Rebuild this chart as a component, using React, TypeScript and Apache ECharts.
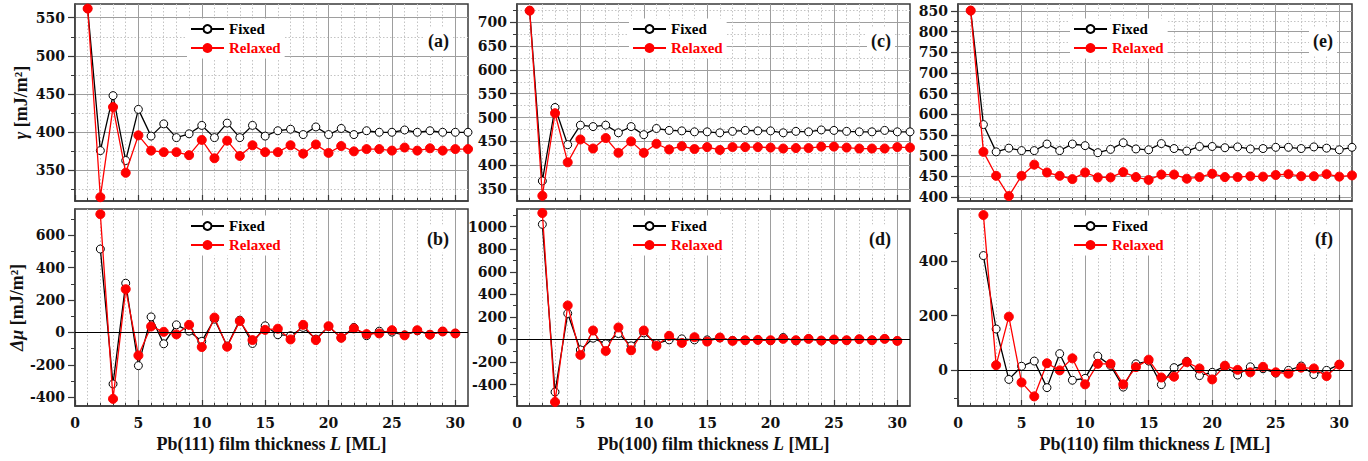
import React, { useEffect, useRef } from "react";
import * as echarts from "echarts";

// ---------- data ----------
const thicknessGamma = [1, 2, 3, 4, 5, 6, 7, 8, 9, 10, 11, 12, 13, 14, 15, 16, 17, 18, 19, 20, 21, 22, 23, 24, 25, 26, 27, 28, 29, 30, 31];
const thicknessDmu = [2, 3, 4, 5, 6, 7, 8, 9, 10, 11, 12, 13, 14, 15, 16, 17, 18, 19, 20, 21, 22, 23, 24, 25, 26, 27, 28, 29, 30];

const gammaFixed111 = [562, 376, 448, 363, 430, 395, 411, 393, 398, 409, 393, 412, 393, 409, 395, 402, 404, 397, 407, 397, 405, 397, 402, 400, 400, 403, 400, 402, 400, 400, 400];
const gammaRelaxed111 = [562, 315, 433, 347, 396, 376, 374, 374, 370, 390, 366, 389, 369, 383, 374, 374, 383, 372, 384, 373, 382, 375, 378, 378, 376, 380, 376, 379, 376, 378, 378];
const dmuFixed111 = [515, -318, 304, -205, 96, -70, 47, 8, -55, 82, -84, 76, -68, 41, -14, -20, 31, -41, 37, -33, 31, -20, 8, 2, -16, 10, -12, 6, -6];
const dmuRelaxed111 = [730, -410, 267, -142, 37, 4, -12, 47, -90, 92, -88, 70, -47, 16, 23, -43, 47, -47, 39, -33, 25, -10, -6, 14, -18, 14, -14, 6, -6];

const gammaFixed100 = [724, 367, 521, 443, 484, 481, 484, 468, 481, 464, 477, 473, 472, 470, 470, 468, 471, 473, 472, 472, 468, 471, 470, 474, 473, 471, 470, 470, 473, 470, 470];
const gammaRelaxed100 = [724, 336, 509, 406, 454, 435, 457, 426, 450, 426, 445, 433, 440, 434, 438, 432, 438, 438, 438, 437, 435, 436, 436, 439, 439, 437, 435, 435, 435, 438, 437];
const dmuFixed100 = [1021, -465, 231, -92, 12, -38, 53, -56, 59, -36, -3, 6, -3, -3, 15, -9, -6, -3, -9, 18, -12, 6, -12, -3, -6, 3, -6, 6, -12];
const dmuRelaxed100 = [1121, -553, 302, -136, 80, -101, 107, -95, 80, -56, 33, -30, 21, -18, 18, -12, -6, -3, -6, 6, -6, 6, -9, 0, -6, 3, -6, 6, -12];

const gammaFixed110 = [851, 575, 509, 518, 512, 512, 528, 512, 528, 524, 507, 515, 531, 516, 514, 529, 517, 511, 522, 522, 519, 521, 516, 517, 520, 520, 517, 521, 518, 514, 520];
const gammaRelaxed110 = [851, 509, 451, 402, 451, 478, 459, 451, 443, 459, 447, 447, 460, 448, 441, 454, 454, 444, 448, 456, 448, 448, 450, 449, 453, 455, 450, 450, 455, 449, 452];
const dmuFixed110 = [419, 151, -33, 15, 34, -63, 61, -36, -29, 52, 18, -61, 24, 34, -52, 10, 33, -19, -7, 16, -17, 13, 6, -10, 0, 16, -15, 0, 21];
const dmuRelaxed110 = [567, 19, 196, -44, -95, 26, 0, 44, -51, 24, 24, -51, 12, 39, -26, -23, 30, 7, -33, 17, 2, -7, 13, -7, -12, 10, 7, -21, 21];

// tick values
const xMajorTicks = [0, 5, 10, 15, 20, 25, 30];
const xMinorTicks = [1, 2, 3, 4, 6, 7, 8, 9, 11, 12, 13, 14, 16, 17, 18, 19, 21, 22, 23, 24, 26, 27, 28, 29];
const yMajorA = [350, 400, 450, 500, 550];
const yMinorA = [325, 375, 425, 475, 525];
const yMajorB = [-400, -200, 0, 200, 400, 600];
const yMinorB = [-300, -100, 100, 300, 500, 700];
const yMajorC = [350, 400, 450, 500, 550, 600, 650, 700];
const yMinorC = [375, 425, 475, 525, 575, 625, 675, 725];
const yMajorD = [-400, -200, 0, 200, 400, 600, 800, 1000];
const yMinorD = [-500, -300, -100, 100, 300, 500, 700, 900, 1100];
const yMajorE = [400, 450, 500, 550, 600, 650, 700, 750, 800, 850];
const yMinorE = [425, 475, 525, 575, 625, 675, 725, 775, 825];
const yMajorF = [0, 200, 400];
const yMinorF = [-100, 100, 300, 500];

const seriesNames = ["Fixed", "Relaxed"];
const panelTags = ["(a)", "(b)", "(c)", "(d)", "(e)", "(f)"];
const xTitles = ["Pb(111) film thickness {i|L} [ML]", "Pb(100) film thickness {i|L} [ML]", "Pb(110) film thickness {i|L} [ML]"];
const yTitles = ["{i|γ} [mJ/m²]", "{i|Δμ} [mJ/m²]"];

// ---------- layout / style ----------
const TICK_FONT = "DejaVu Serif";
const TEXT_FONT = "Liberation Serif";
const FRAME = "#3a3a3a";
const RED = "#ff0000";
const colLeft = [75, 517, 958];
const colWidth = [393, 393, 394];
const rowTop = [4, 209];
const panelHeight = 197;

const panels = [
  { col: 0, row: 0, xs: thicknessGamma, fixed: gammaFixed111, relaxed: gammaRelaxed111, yMin: 310, yMax: 568, yMajor: yMajorA, yMinor: yMinorA },
  { col: 0, row: 1, xs: thicknessDmu, fixed: dmuFixed111, relaxed: dmuRelaxed111, yMin: -454, yMax: 762, yMajor: yMajorB, yMinor: yMinorB },
  { col: 1, row: 0, xs: thicknessGamma, fixed: gammaFixed100, relaxed: gammaRelaxed100, yMin: 325, yMax: 738, yMajor: yMajorC, yMinor: yMinorC },
  { col: 1, row: 1, xs: thicknessDmu, fixed: dmuFixed100, relaxed: dmuRelaxed100, yMin: -589, yMax: 1157, yMajor: yMajorD, yMinor: yMinorD },
  { col: 2, row: 0, xs: thicknessGamma, fixed: gammaFixed110, relaxed: gammaRelaxed110, yMin: 390, yMax: 867, yMajor: yMajorE, yMinor: yMinorE },
  { col: 2, row: 1, xs: thicknessDmu, fixed: dmuFixed110, relaxed: dmuRelaxed110, yMin: -130, yMax: 589, yMajor: yMajorF, yMinor: yMinorF },
];

const plainNumber = (v: number) => String(v);

function buildOption() {
  const grid: any[] = [];
  const xAxis: any[] = [];
  const yAxis: any[] = [];
  const series: any[] = [];
  const legend: any[] = [];
  const graphic: any[] = [];

  const titleStyle = {
    fontFamily: TEXT_FONT,
    fontWeight: "bold",
    fontSize: 18,
    color: "#111",
    rich: {
      i: { fontFamily: TEXT_FONT, fontWeight: "bold", fontStyle: "italic", fontSize: 18, color: "#111" },
    },
  };

  const tickLabel = {
    fontFamily: TICK_FONT,
    fontWeight: "bold",
    fontSize: 14,
    color: "#111",
    formatter: plainNumber,
  };

  panels.forEach((p, i) => {
    const left = colLeft[p.col];
    const width = colWidth[p.col];
    const top = rowTop[p.row];
    const isBottom = p.row === 1;
    const isFirstCol = p.col === 0;

    grid.push({
      left,
      top,
      width,
      height: panelHeight,
      show: true,
      borderColor: FRAME,
      borderWidth: 1.5,
      backgroundColor: "rgba(0,0,0,0)",
    });

    // main x axis
    xAxis.push({
      type: "value",
      gridIndex: i,
      min: 0,
      max: 31,
      position: "bottom",
      axisLine: { show: true, onZero: false, lineStyle: { color: FRAME, width: 1.5 } },
      axisTick: { show: true, inside: true, length: 6, customValues: xMajorTicks, lineStyle: { color: FRAME, width: 1.2 } },
      axisLabel: { show: isBottom, customValues: xMajorTicks, margin: 10, ...tickLabel },
      splitLine: { show: true, lineStyle: { color: "#9e9e9e", width: 1 } },
      name: isBottom ? xTitles[p.col] : "",
      nameLocation: "middle",
      nameGap: 29,
      nameTextStyle: titleStyle,
    });
    // minor x axis
    xAxis.push({
      type: "value",
      gridIndex: i,
      min: 0,
      max: 31,
      position: "bottom",
      axisLine: { show: false, onZero: false },
      axisTick: { show: true, inside: true, length: 3, customValues: xMinorTicks, lineStyle: { color: FRAME, width: 1 } },
      axisLabel: { show: false },
      splitLine: { show: true, lineStyle: { color: "#c4c4c4", width: 1, type: [1.5, 2] } },
    });

    // main y axis
    yAxis.push({
      type: "value",
      gridIndex: i,
      min: p.yMin,
      max: p.yMax,
      position: "left",
      axisLine: { show: true, onZero: false, lineStyle: { color: FRAME, width: 1.5 } },
      axisTick: { show: true, inside: false, length: 7, customValues: p.yMajor, lineStyle: { color: FRAME, width: 1.2 } },
      axisLabel: { show: true, customValues: p.yMajor, margin: 10, ...tickLabel },
      splitLine: { show: !isBottom, lineStyle: { color: "#9e9e9e", width: 1 } },
      name: isFirstCol ? yTitles[p.row] : "",
      nameLocation: "middle",
      nameGap: 45,
      nameTextStyle: titleStyle,
    });
    // minor y axis
    yAxis.push({
      type: "value",
      gridIndex: i,
      min: p.yMin,
      max: p.yMax,
      position: "left",
      axisLine: { show: false, onZero: false },
      axisTick: { show: true, inside: false, length: 4, customValues: p.yMinor, lineStyle: { color: FRAME, width: 1 } },
      axisLabel: { show: false },
      splitLine: { show: !isBottom, lineStyle: { color: "#c4c4c4", width: 1, type: [1.5, 2] } },
    });

    const fixedData = p.xs.map((x, k) => [x, p.fixed[k]]);
    const relaxedData = p.xs.map((x, k) => [x, p.relaxed[k]]);

    series.push({
      type: "line",
      name: seriesNames[0],
      xAxisIndex: 2 * i,
      yAxisIndex: 2 * i,
      data: fixedData,
      color: "#000",
      symbol: "circle",
      symbolSize: 8,
      showAllSymbol: true,
      lineStyle: { color: "#000", width: 1.3 },
      itemStyle: { color: "#fff", borderColor: "#000", borderWidth: 1 },
      z: 3,
      markLine: isBottom
        ? {
            silent: true,
            symbol: "none",
            label: { show: false },
            lineStyle: { color: "#000", width: 1, type: "solid" },
            data: [{ yAxis: 0 }],
          }
        : undefined,
    });
    series.push({
      type: "line",
      name: seriesNames[1],
      xAxisIndex: 2 * i,
      yAxisIndex: 2 * i,
      data: relaxedData,
      color: RED,
      symbol: "circle",
      symbolSize: 9,
      showAllSymbol: true,
      lineStyle: { color: RED, width: 1.3 },
      itemStyle: { color: RED, borderColor: RED, borderWidth: 1 },
      z: 4,
    });

    legend.push({
      left: left + 112,
      top: top + (isBottom ? 6.5 : 14.5),
      orient: "vertical",
      itemWidth: 33,
      itemHeight: 10,
      itemGap: 4,
      padding: [3, 4, 3, 3],
      backgroundColor: "#fff",
      selectedMode: false,
      textStyle: { fontFamily: TEXT_FONT, fontWeight: "bold", fontSize: 15 },
      data: [
        { name: seriesNames[0], textStyle: { color: "#000" } },
        { name: seriesNames[1], textStyle: { color: RED } },
      ],
    });

    graphic.push({
      type: "text",
      x: left + width - 15,
      y: top + (isBottom ? 29.5 : 37),
      z: 100,
      style: {
        text: panelTags[i],
        fontFamily: TEXT_FONT,
        fontWeight: "bold",
        fontSize: 18,
        fill: "#111",
        align: "right",
        verticalAlign: "middle",
        backgroundColor: "#fff",
        padding: [5, 4, 5, 4],
      },
    });
  });

  return {
    animation: false,
    backgroundColor: "#fff",
    grid,
    xAxis,
    yAxis,
    series,
    legend,
    graphic,
  };
}

export default function App() {
  const ref = useRef<HTMLDivElement>(null);
  useEffect(() => {
    if (!ref.current) return;
    const chart = echarts.init(ref.current, undefined, { renderer: "svg" });
    chart.setOption(buildOption() as any);
    return () => chart.dispose();
  }, []);
  return (
    <div
      ref={ref}
      style={{ position: "fixed", left: 0, top: 0, width: 1368, height: 461, background: "#fff" }}
    />
  );
}
